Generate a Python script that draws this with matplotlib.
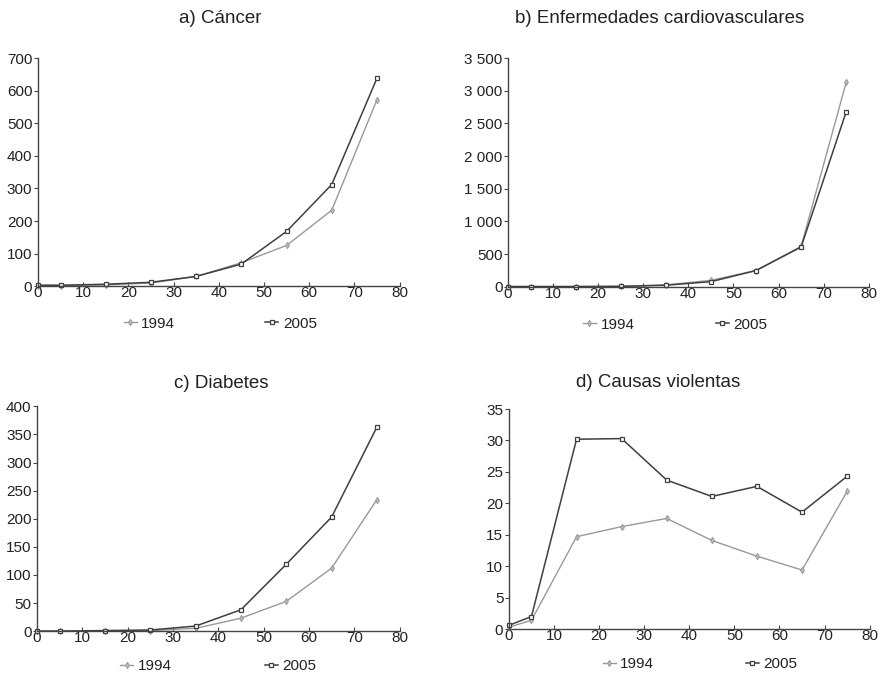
import matplotlib
matplotlib.use('Agg')
import matplotlib.pyplot as plt
from matplotlib.ticker import FuncFormatter

plt.rcParams['font.family'] = ['Liberation Sans', 'DejaVu Sans']

edades = [0, 5, 15, 25, 35, 45, 55, 65, 75]

cancer_1994 = [2, 2, 4, 10, 30, 72, 125, 233, 572]
cancer_2005 = [3, 3, 6, 12, 30, 68, 168, 312, 638]

cardio_1994 = [5, 5, 5, 8, 30, 100, 250, 620, 3130]
cardio_2005 = [5, 5, 5, 8, 25, 80, 250, 610, 2680]

diabetes_1994 = [0, 0, 0, 1, 5, 23, 53, 112, 234]
diabetes_2005 = [0, 0, 1, 2, 9, 38, 119, 203, 363]

violentas_1994 = [0.3, 1.4, 14.7, 16.3, 17.6, 14.1, 11.6, 9.4, 21.9]
violentas_2005 = [0.6, 2.0, 30.2, 30.3, 23.7, 21.1, 22.7, 18.6, 24.3]

titulos = ['a) Cáncer', 'b) Enfermedades cardiovasculares',
           'c) Diabetes', 'd) Causas violentas']
ylims = [700, 3500, 400, 35]
ysteps = [100, 500, 50, 5]
series = [(cancer_1994, cancer_2005), (cardio_1994, cardio_2005),
          (diabetes_1994, diabetes_2005), (violentas_1994, violentas_2005)]

# axes positions [left, bottom, width, height] in figure fraction
posiciones = [[0.043, 0.576, 0.410, 0.338],
              [0.576, 0.575, 0.409, 0.339],
              [0.042, 0.065, 0.411, 0.333],
              [0.577, 0.068, 0.409, 0.326]]
title_x = [0.503, 0.42, 0.507, 0.415]
title_pads = [25.5, 25.5, 13, 16]
leg_x = [0.504, 0.463, 0.50, 0.53]
leg_y = [-0.165, -0.165, -0.155, -0.16]
leg_gap = [5.9, 5.3, 6.1, 6.0]

miles = FuncFormatter(lambda v, p: '{:,.0f}'.format(v).replace(',', ' '))

fig = plt.figure(figsize=(8.82, 6.75), dpi=100)

for i in range(4):
    ax = fig.add_axes(posiciones[i])
    s94, s05 = series[i]
    ax.plot(edades, s94, color='#999999', lw=1.0, marker='d', ms=3.2,
            mfc='#bbbbbb', mec='#999999', mew=0.7, label='1994', clip_on=False)
    ax.plot(edades, s05, color='#3f3f3f', lw=1.1, marker='s', ms=3.0,
            mfc='white', mec='#3f3f3f', mew=0.9, label='2005', clip_on=False)
    ax.set_xlim(0, 80)
    ax.set_ylim(0, ylims[i])
    ax.set_xticks(range(0, 81, 10))
    ax.set_yticks(range(0, ylims[i] + 1, ysteps[i]))
    if i == 1:
        ax.yaxis.set_major_formatter(miles)
    ax.spines['top'].set_visible(False)
    ax.spines['right'].set_visible(False)
    for sp in ['left', 'bottom']:
        ax.spines[sp].set_color('#444444')
        ax.spines[sp].set_linewidth(1.0)
    ax.tick_params(axis='y', direction='out', length=3, color='#444444',
                   labelsize=11, labelcolor='#222222', pad=1)
    ax.tick_params(axis='x', direction='in', length=3, color='#444444',
                   labelsize=11, labelcolor='#222222', pad=0)
    ax.set_title(titulos[i], fontsize=13.5, color='#222222',
                 x=title_x[i], pad=title_pads[i])
    ax.legend(loc='center', bbox_to_anchor=(leg_x[i], leg_y[i]), ncol=2,
              frameon=False, fontsize=11, handlelength=0.85,
              handletextpad=0.3, columnspacing=leg_gap[i], borderpad=0,
              labelcolor='#222222')

plt.savefig('out.png', dpi=100)
